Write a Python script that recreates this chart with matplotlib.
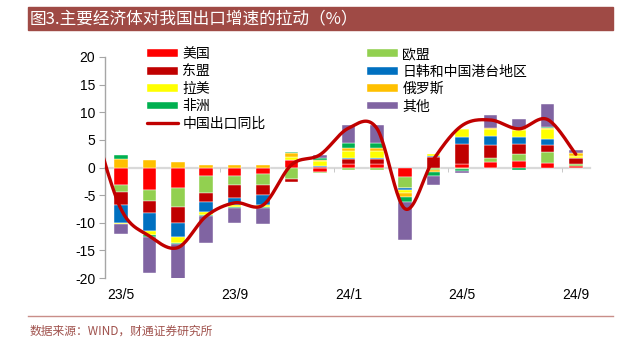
import numpy as np
import matplotlib.pyplot as plt
from matplotlib.patches import Rectangle
from matplotlib.lines import Line2D

plt.rcParams['font.family'] = ['Liberation Sans', 'Noto Sans CJK SC']
plt.rcParams['axes.unicode_minus'] = False

months = ['23/5', '23/6', '23/7', '23/8', '23/9', '23/10', '23/11', '23/12',
          '24/1', '24/2', '24/3', '24/4', '24/5', '24/6', '24/7', '24/8', '24/9']

# 各地区对出口增速的拉动（百分点）
usa = [-3.2, -4.1, -3.7, -1.5, -1.6, -1.2, 1.4, -0.8, 0.6, 0.6, -1.7, -0.1, 0.6, 1.05, 1.2, 0.75, 0.35]
eu = [-1.2, -2.0, -3.4, -3.2, -1.6, -1.9, -2.0, -0.25, -0.4, -0.4, -2.0, -0.3, -0.25, 0.7, 1.2, 2.0, 0.3]
asean = [-2.4, -2.1, -2.9, -1.6, -2.4, -1.9, -0.6, 0.1, 0.85, 0.85, -0.1, 1.85, 3.6, 2.4, 1.8, 1.3, 1.0]
jkht = [-3.2, -3.3, -2.5, -1.8, -1.2, -1.8, 0.0, 0.15, 0.2, 0.2, -0.3, 0.25, 1.3, 1.5, 1.4, 1.1, 0.0]
latam = [-0.2, -0.7, -1.1, -0.5, -0.3, -0.4, 0.5, 0.85, 1.4, 1.4, -0.6, 0.35, 1.5, 1.4, 1.2, 1.75, 0.5]
russia = [1.5, 1.3, 1.0, 0.4, 0.4, 0.4, 0.65, 0.3, 0.4, 0.4, -0.6, -0.45, 0.0, 0.15, 0.15, 0.3, 0.4]
africa = [0.7, -0.4, -0.2, -0.1, -0.2, -0.1, 0.25, 0.3, 1.0, 1.0, -1.0, -0.6, -0.45, -0.15, -0.4, 0.2, -0.1]
other = [-1.8, -6.5, -6.5, -5.0, -2.8, -2.9, 0.0, 0.5, 3.3, 3.3, -6.8, -1.8, -0.35, 2.25, 1.9, 4.05, 0.6]

# 出口同比，多带一个 23/4 的点，曲线从左边界外进入
line_months = ['23/4'] + months
export_yoy = [8.5, -7.5, -12.4, -14.5, -8.8, -6.4, -6.8, 0.5, 2.3, 7.1, 7.1, -7.5, 1.5, 7.6, 8.6, 7.0, 8.7, 2.4]

series = [
    ('美国', usa, '#FF0000'),
    ('欧盟', eu, '#92D050'),
    ('东盟', asean, '#C00000'),
    ('日韩和中国港台地区', jkht, '#0070C0'),
    ('拉美', latam, '#FFFF00'),
    ('俄罗斯', russia, '#FFC000'),
    ('非洲', africa, '#00B050'),
    ('其他', other, '#8064A2'),
]


def smooth(xs, ys, k=24):
    # Catmull-Rom 平滑曲线
    p = np.column_stack([xs, ys]).astype(float)
    p = np.vstack([p[0], p, p[-1]])
    out = []
    t = np.linspace(0, 1, k, endpoint=False)[:, None]
    for i in range(1, len(p) - 2):
        p0, p1, p2, p3 = p[i - 1], p[i], p[i + 1], p[i + 2]
        seg = 0.5 * ((2 * p1) + (-p0 + p2) * t + (2 * p0 - 5 * p1 + 4 * p2 - p3) * t ** 2
                     + (-p0 + 3 * p1 - 3 * p2 + p3) * t ** 3)
        out.append(seg)
    out.append(p[-2][None, :])
    out = np.vstack(out)
    return out[:, 0], out[:, 1]


fig = plt.figure(figsize=(6.33, 3.42), dpi=100)
ax = fig.add_axes([105 / 633, 1 - 278 / 342, 485 / 633, 221 / 342])

x = np.arange(len(months))
pos = np.zeros(len(months))
neg = np.zeros(len(months))
handles = {}
for name, vals, color in series:
    v = np.array(vals)
    bottom = np.where(v >= 0, pos, neg)
    handles[name] = ax.bar(x, v, 0.48, bottom=bottom, color=color,
                           edgecolor='white', linewidth=0.3, zorder=2)
    pos += np.clip(v, 0, None)
    neg += np.clip(v, None, 0)

lx, ly = smooth(np.arange(len(line_months)) - 1, export_yoy)
handles['中国出口同比'], = ax.plot(lx, ly, color='#C00000', lw=2.4, zorder=3,
                               solid_capstyle='round')

ax.set_xlim(-0.56, 16.5)
ax.set_ylim(-20, 20)
ax.set_yticks(range(-20, 21, 5))

for s in ['top', 'right']:
    ax.spines[s].set_visible(False)
ax.spines['left'].set_color('#A6A6A6')
ax.spines['left'].set_linewidth(1)
ax.spines['bottom'].set_position(('data', 0))
ax.spines['bottom'].set_color('#D9D9D9')
ax.spines['bottom'].set_linewidth(1.6)
ax.spines['bottom'].set_zorder(1)

ax.set_xticks(x[::4])
ax.set_xticklabels(months[::4])
ax.set_xticks(x[3::4] + 0.5, minor=True)
ax.tick_params(axis='x', which='major', length=0, pad=87, labelsize=10)
ax.tick_params(axis='x', which='minor', length=3, color='#BFBFBF', direction='out')
ax.tick_params(axis='y', length=4, color='#A6A6A6', labelsize=10, pad=3)

order = ['美国', '东盟', '拉美', '非洲', '中国出口同比', '欧盟', '日韩和中国港台地区', '俄罗斯', '其他']
fig.legend([handles[k] for k in order], order, ncol=2, loc='upper left',
           bbox_to_anchor=(147 / 633, 1 - 47 / 342), frameon=False,
           prop={'family': ['Noto Sans CJK SC'], 'size': 10},
           handlelength=2.2, handleheight=0.5, handletextpad=0.35,
           columnspacing=7.3, labelspacing=0.25, borderpad=0, borderaxespad=0)

# 标题栏
fig.add_artist(Rectangle((28 / 633, 1 - 30 / 342), 585 / 633, 23 / 342,
                         transform=fig.transFigure, color='#9F4A45', zorder=0))
fig.text(30 / 633, 1 - 18.5 / 342, '图3.主要经济体对我国出口增速的拉动（%）',
         color='white', fontsize=12, va='center',
         family=['Noto Sans CJK SC'])

# 底部分隔线与来源
fig.add_artist(Line2D([28 / 633, 613 / 633], [1 - 316 / 342] * 2,
                      transform=fig.transFigure, color='#C98E89', lw=1))
fig.text(30 / 633, 1 - 331 / 342, '数据来源：WIND，财通证券研究所',
         color='#A0524D', fontsize=8.5, va='center',
         family=['Noto Sans CJK SC', 'Liberation Sans'])

fig.savefig('out.png', dpi=100)
